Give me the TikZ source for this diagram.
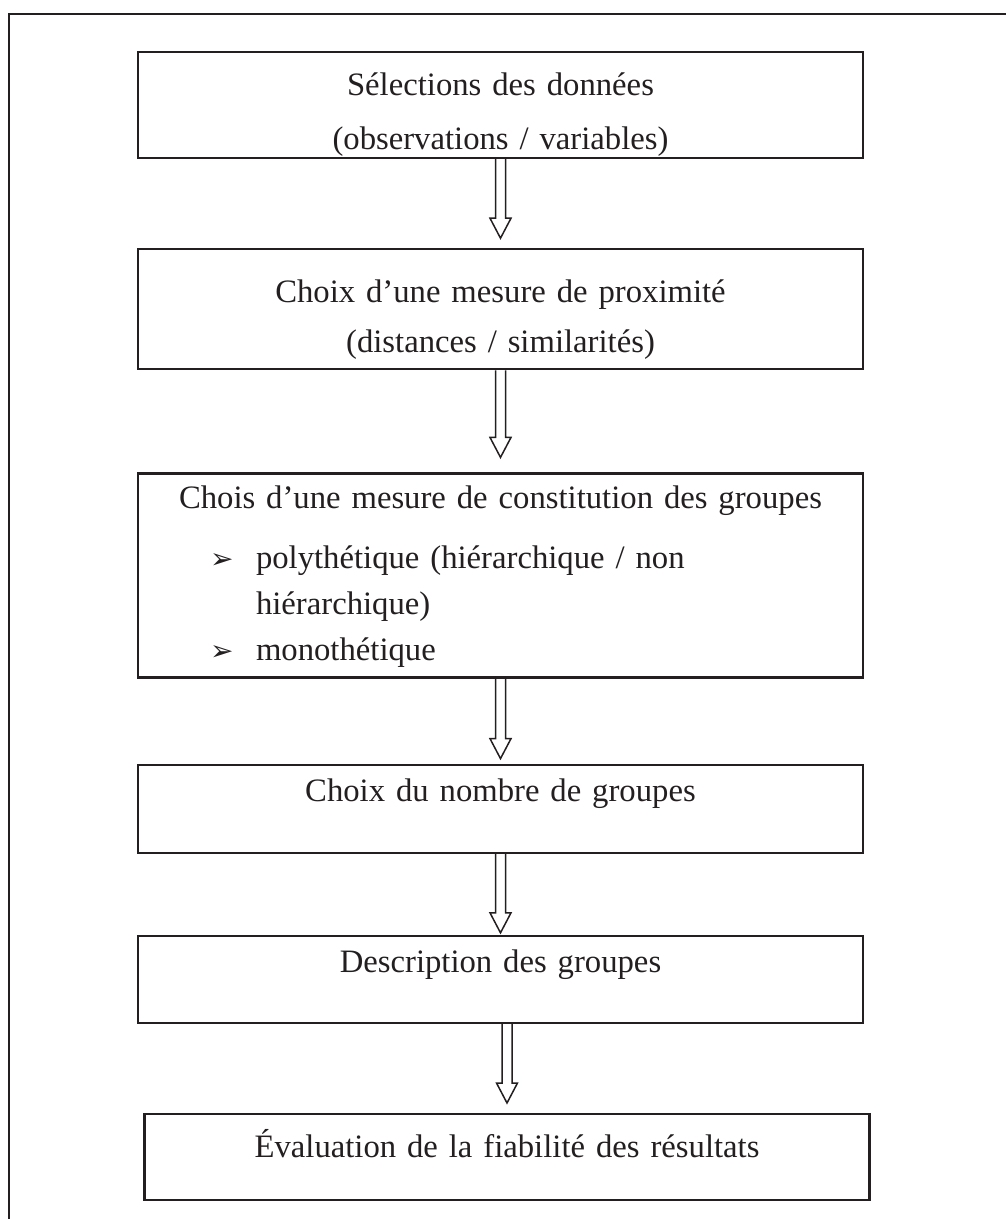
\documentclass[tikz,border=0pt]{standalone}
\usepackage{fontspec}
\setmainfont{Liberation Serif}
\newfontfamily\dingfont{DejaVu Sans}
\usetikzlibrary{positioning, calc}
\definecolor{ink}{HTML}{231F20}
\newcommand{\arrowbullet}{\leavevmode\llap{\makebox[46pt][l]{\dingfont\fontsize{28}{28}\selectfont ➢}}}

\begin{document}
\begin{tikzpicture}[
    stepbox/.style = {rectangle, draw=ink, line width=2.2pt, text=ink, inner sep=0pt, text width=725pt, align=center, font=\fontsize{32.7}{54}\selectfont},
    blockarrow/.style = {draw=ink, line width=1.5pt, to path={let \p1=(\tikztostart), \p2=(\tikztotarget) in
        (\x1-5pt,\y1) -- (\x1-5pt,\y2+20pt) -- (\x1-10.5pt,\y2+20pt) -- (\x1,\y2) -- (\x1+10.5pt,\y2+20pt) -- (\x1+5pt,\y2+20pt) -- (\x1+5pt,\y1)}}]

    \useasboundingbox (0,0) rectangle (1006pt,-1219pt);
    \clip (0,0) rectangle (1006pt,-1219pt);
    \draw[ink, line width=2.5pt] (9pt,-14pt) rectangle (1040pt,-1250pt);

    \node[stepbox, anchor=north, text height=43pt, text depth=63pt] (sel) at (500.5pt,-51pt) {Sélections des données\\(observations / variables)};
    \node[stepbox, below=89pt of sel, text height=53pt, text depth=67pt, font=\fontsize{32.7}{50}\selectfont] (prox) {Choix d’une mesure de proximité\\(distances / similarités)};
    \node[stepbox, below=102pt of prox, text height=35pt, text depth=169pt, align=left, font=\fontsize{32.7}{46}\selectfont] (grp) {{\centering Chois d’une mesure de constitution des groupes\par}\vspace{14pt}
        \leftskip=118pt
        \arrowbullet polythétique (hiérarchique / non\\hiérarchique)\par
        \arrowbullet monothétique\par};
    \node[stepbox, below=85pt of grp, text height=37pt, text depth=51pt] (nbr) {Choix du nombre de groupes};
    \node[stepbox, below=81pt of nbr, text height=37pt, text depth=50pt] (desc) {Description des groupes};
    \node[stepbox, below=89pt of desc, xshift=6.5pt, text height=43pt, text depth=43pt] (eval) {Évaluation de la fiabilité des résultats};

    \draw[blockarrow] (sel.south) to ([yshift=10pt]prox.north);
    \draw[blockarrow] (prox.south) to ([yshift=15pt]grp.north);
    \draw[blockarrow] (grp.south) to ([yshift=5pt]nbr.north);
    \draw[blockarrow] (nbr.south) to ([yshift=2pt]desc.north);
    \draw[blockarrow] (desc.south -| eval.north) to ([yshift=10pt]eval.north);
\end{tikzpicture}
\end{document}
